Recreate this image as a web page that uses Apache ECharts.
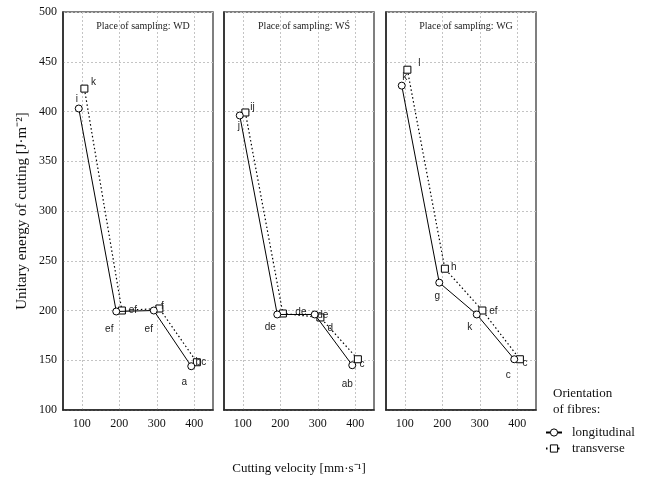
<!DOCTYPE html>
<html>
<head>
<meta charset="utf-8">
<script src="https://cdn.jsdelivr.net/npm/echarts@6/dist/echarts.min.js"></script>
<style>
  html, body { margin: 0; padding: 0; background: #fff; }
  #chart { width: 650px; height: 479px; }
</style>
</head>
<body>
<div id="chart"></div>
<script>
// velocity ticks and place names
const xTicks = [100, 200, 300, 400]
const places = ['WD', 'WŚ', 'WG']

// cutting velocity of the points (shifted a little so the markers don't overlap)
const velocityLong = [92, 192, 292, 392]
const velocityTrans = [107, 207, 307, 407]

// unitary energy of cutting [J/m2]
const energyLongWD = [403, 199, 200, 144]
const energyTransWD = [423, 200, 202, 148]
const energyLongWS = [396, 196, 196, 145]
const energyTransWS = [399, 197, 193, 151]
const energyLongWG = [426, 228, 196, 151]
const energyTransWG = [442, 242, 200, 151]

// homogeneous groups letters
const lettersLongWD = ['i', 'ef', 'ef', 'a']
const lettersTransWD = ['k', 'ef', 'f', 'bc']
const lettersLongWS = ['j', 'de', 'de', 'ab']
const lettersTransWS = ['ij', 'de', 'd', 'c']
const lettersLongWG = ['k', 'g', 'k', 'c']
const lettersTransWG = ['l', 'h', 'ef', 'c']

// label offsets (style only)
const offLong = [
  [[-2, -9], [-7, 18], [-5, 19], [-7, 16]],
  [[-1, 11], [-7, 13], [8, 1], [-5, 19]],
  [[3, -8], [-2, 14], [-7, 13], [-6, 16]]
]
const offTrans = [
  [[9, -6], [11, 0], [3, -2], [4, 0]],
  [[7, -5], [18, -1], [10, 11], [4, 5]],
  [[12, -6], [9, -1], [11, 1], [5, 4]]
]

const longData = [energyLongWD, energyLongWS, energyLongWG]
const transData = [energyTransWD, energyTransWS, energyTransWG]
const longLetters = [lettersLongWD, lettersLongWS, lettersLongWG]
const transLetters = [lettersTransWD, lettersTransWS, lettersTransWG]

const chart = echarts.init(document.getElementById('chart'))

const serif = 'Liberation Serif'
const sans = 'Liberation Sans'
const gridLefts = [63, 224, 386]

const grids = gridLefts.map(l => ({
  left: l, top: 12, width: 150, height: 398,
  show: true, borderColor: '#555', borderWidth: 1.5,
  outerBoundsMode: 'none'
}))

const xAxes = gridLefts.map((l, i) => ({
  gridIndex: i,
  type: 'value',
  min: 50,
  max: 450,
  name: i === 1 ? 'Cutting velocity [mm·s⁻¹]' : '',
  nameLocation: 'middle',
  nameGap: 52,
  nameTextStyle: { fontFamily: serif, fontSize: 13, color: '#111' },
  axisLine: { show: true, onZero: false, lineStyle: { color: '#222', width: 1.5 } },
  axisTick: { show: false, customValues: xTicks },
  axisLabel: { customValues: xTicks, fontFamily: serif, fontSize: 12, color: '#111', margin: 8 },
  splitLine: { show: true, lineStyle: { color: '#c4c4c4', type: [2, 2], width: 1 } }
}))

const yAxes = gridLefts.map((l, i) => ({
  gridIndex: i,
  type: 'value',
  min: 100,
  max: 500,
  interval: 50,
  name: i === 0 ? 'Unitary energy of cutting [J·m⁻²]' : '',
  nameLocation: 'middle',
  nameRotate: 90,
  nameGap: 33,
  nameTextStyle: { fontFamily: serif, fontSize: 15, color: '#111' },
  axisLine: { show: true, onZero: false, lineStyle: { color: '#222', width: 1.5 } },
  axisTick: { show: false },
  axisLabel: { show: i === 0, fontFamily: serif, fontSize: 12, color: '#111', margin: 6 },
  splitLine: { show: true, lineStyle: { color: '#c4c4c4', type: [2, 2], width: 1 } }
}))

const makeData = (xs, ys, letters, offs) => xs.map((x, k) => ({
  value: [x, ys[k]],
  label: { formatter: letters[k], offset: offs[k] }
}))

const series = []
for (let i = 0; i < 3; i++) {
  series.push({
    name: 'longitudinal',
    type: 'line',
    xAxisIndex: i,
    yAxisIndex: i,
    symbol: 'circle',
    symbolSize: 7,
    showAllSymbol: true,
    z: 3,
    lineStyle: { color: '#000', width: 1, type: 'solid' },
    itemStyle: { color: '#fff', borderColor: '#000', borderWidth: 1 },
    label: { show: true, position: 'inside', fontFamily: sans, fontSize: 10, color: '#222' },
    emphasis: { disabled: true },
    data: makeData(velocityLong, longData[i], longLetters[i], offLong[i])
  })
  series.push({
    name: 'transverse',
    type: 'line',
    xAxisIndex: i,
    yAxisIndex: i,
    symbol: 'rect',
    symbolSize: 7,
    showAllSymbol: true,
    z: 2,
    lineStyle: { color: '#000', width: 1.2, type: [1.5, 2.5] },
    itemStyle: { color: '#fff', borderColor: '#000', borderWidth: 1 },
    label: { show: true, position: 'inside', fontFamily: sans, fontSize: 10, color: '#222' },
    emphasis: { disabled: true },
    data: makeData(velocityTrans, transData[i], transLetters[i], offTrans[i])
  })
}

const option = {
  animation: false,
  backgroundColor: '#fff',
  title: [
    ...places.map((p, i) => ({
      text: 'Place of sampling: ' + p,
      left: gridLefts[i] + 75,
      top: 16,
      textAlign: 'center',
      textStyle: { fontFamily: serif, fontSize: 10, fontWeight: 'normal', color: '#222' }
    })),
    {
      text: 'Orientation\nof fibres:',
      left: 548,
      top: 381,
      textStyle: { fontFamily: serif, fontSize: 13, fontWeight: 'normal', color: '#111', lineHeight: 16 }
    }
  ],
  legend: {
    data: ['longitudinal', 'transverse'],
    orient: 'vertical',
    left: 540,
    top: 421,
    itemWidth: 16,
    itemHeight: 9,
    itemGap: 3,
    selectedMode: false,
    itemStyle: { borderWidth: 1 },
    textStyle: { fontFamily: serif, fontSize: 13, color: '#111', padding: [0, 0, 0, 5] }
  },
  grid: grids,
  xAxis: xAxes,
  yAxis: yAxes,
  series: series
}

chart.setOption(option)
</script>
</body>
</html>
